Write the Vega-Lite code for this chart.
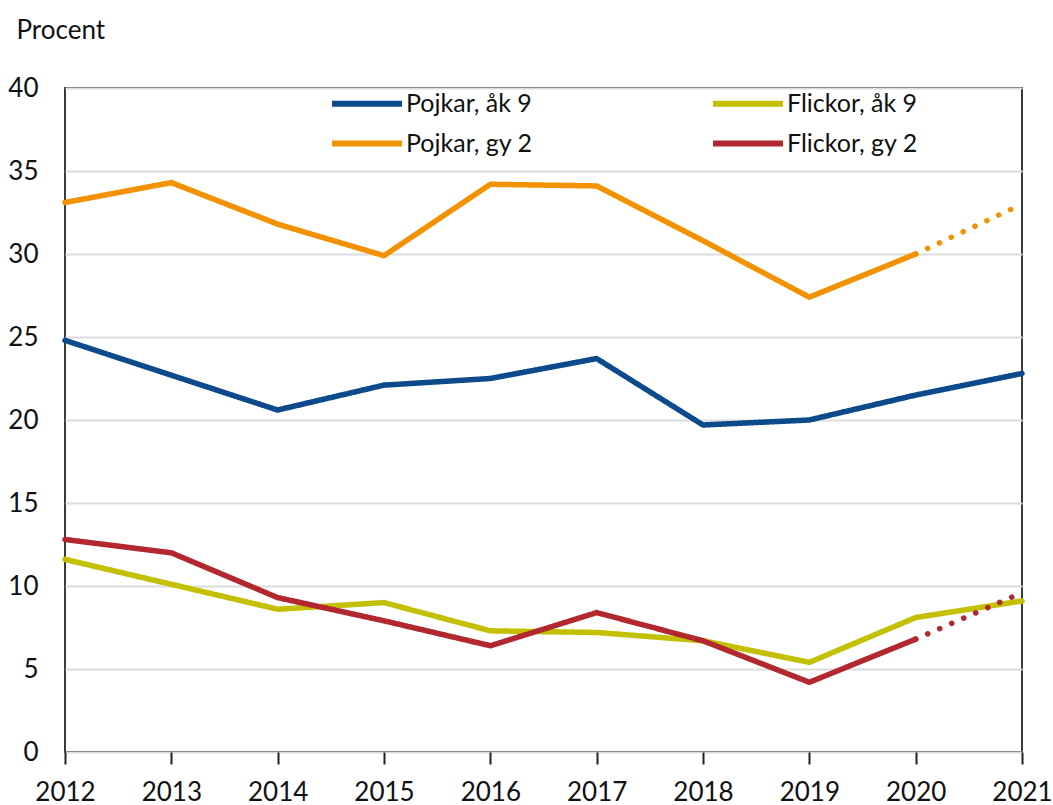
{
  "$schema": "https://vega.github.io/schema/vega-lite/v6.json",
  "width": 957,
  "height": 664,
  "autosize": {"type": "none"},
  "padding": {"left": 65, "top": 88, "right": 31, "bottom": 53},
  "background": "white",
  "config": {
    "font": "Lato",
    "view": {"stroke": "#3a3a3a", "strokeWidth": 2},
    "axis": {"labelFont": "Lato", "titleFont": "Lato", "labelColor": "#111", "titleColor": "#111"}
  },
  "data": {
    "values": [
      {"year": 2012, "series": "Pojkar, åk 9", "part": "solid", "value": 24.8},
      {"year": 2013, "series": "Pojkar, åk 9", "part": "solid", "value": 22.7},
      {"year": 2014, "series": "Pojkar, åk 9", "part": "solid", "value": 20.6},
      {"year": 2015, "series": "Pojkar, åk 9", "part": "solid", "value": 22.1},
      {"year": 2016, "series": "Pojkar, åk 9", "part": "solid", "value": 22.5},
      {"year": 2017, "series": "Pojkar, åk 9", "part": "solid", "value": 23.7},
      {"year": 2018, "series": "Pojkar, åk 9", "part": "solid", "value": 19.7},
      {"year": 2019, "series": "Pojkar, åk 9", "part": "solid", "value": 20.0},
      {"year": 2020, "series": "Pojkar, åk 9", "part": "solid", "value": 21.5},
      {"year": 2021, "series": "Pojkar, åk 9", "part": "solid", "value": 22.8},
      {"year": 2012, "series": "Flickor, åk 9", "part": "solid", "value": 11.6},
      {"year": 2013, "series": "Flickor, åk 9", "part": "solid", "value": 10.1},
      {"year": 2014, "series": "Flickor, åk 9", "part": "solid", "value": 8.6},
      {"year": 2015, "series": "Flickor, åk 9", "part": "solid", "value": 9.0},
      {"year": 2016, "series": "Flickor, åk 9", "part": "solid", "value": 7.3},
      {"year": 2017, "series": "Flickor, åk 9", "part": "solid", "value": 7.2},
      {"year": 2018, "series": "Flickor, åk 9", "part": "solid", "value": 6.7},
      {"year": 2019, "series": "Flickor, åk 9", "part": "solid", "value": 5.4},
      {"year": 2020, "series": "Flickor, åk 9", "part": "solid", "value": 8.1},
      {"year": 2021, "series": "Flickor, åk 9", "part": "solid", "value": 9.1},
      {"year": 2012, "series": "Pojkar, gy 2", "part": "solid", "value": 33.1},
      {"year": 2013, "series": "Pojkar, gy 2", "part": "solid", "value": 34.3},
      {"year": 2014, "series": "Pojkar, gy 2", "part": "solid", "value": 31.8},
      {"year": 2015, "series": "Pojkar, gy 2", "part": "solid", "value": 29.9},
      {"year": 2016, "series": "Pojkar, gy 2", "part": "solid", "value": 34.2},
      {"year": 2017, "series": "Pojkar, gy 2", "part": "solid", "value": 34.1},
      {"year": 2018, "series": "Pojkar, gy 2", "part": "solid", "value": 30.8},
      {"year": 2019, "series": "Pojkar, gy 2", "part": "solid", "value": 27.4},
      {"year": 2020, "series": "Pojkar, gy 2", "part": "solid", "value": 30.0},
      {"year": 2020, "series": "Pojkar, gy 2", "part": "dotted", "value": 30.0},
      {"year": 2021, "series": "Pojkar, gy 2", "part": "dotted", "value": 33.0},
      {"year": 2012, "series": "Flickor, gy 2", "part": "solid", "value": 12.8},
      {"year": 2013, "series": "Flickor, gy 2", "part": "solid", "value": 12.0},
      {"year": 2014, "series": "Flickor, gy 2", "part": "solid", "value": 9.3},
      {"year": 2015, "series": "Flickor, gy 2", "part": "solid", "value": 7.9},
      {"year": 2016, "series": "Flickor, gy 2", "part": "solid", "value": 6.4},
      {"year": 2017, "series": "Flickor, gy 2", "part": "solid", "value": 8.4},
      {"year": 2018, "series": "Flickor, gy 2", "part": "solid", "value": 6.7},
      {"year": 2019, "series": "Flickor, gy 2", "part": "solid", "value": 4.2},
      {"year": 2020, "series": "Flickor, gy 2", "part": "solid", "value": 6.8},
      {"year": 2020, "series": "Flickor, gy 2", "part": "dotted", "value": 6.8},
      {"year": 2021, "series": "Flickor, gy 2", "part": "dotted", "value": 9.6}
    ]
  },
  "mark": {"type": "line", "strokeWidth": 5.5, "strokeCap": "round", "strokeJoin": "round", "clip": false},
  "encoding": {
    "x": {
      "field": "year", "type": "quantitative",
      "scale": {"domain": [2012, 2021], "nice": false, "zero": false},
      "axis": {
        "values": [2012, 2013, 2014, 2015, 2016, 2017, 2018, 2019, 2020, 2021],
        "format": "d", "title": null, "grid": false, "domain": false,
        "ticks": true, "tickSize": 12, "tickColor": "#222", "tickWidth": 2,
        "labelFontSize": 26, "labelPadding": 15, "labelFlush": false
      }
    },
    "y": {
      "field": "value", "type": "quantitative",
      "scale": {"domain": [0, 40], "nice": false},
      "axis": {
        "values": [0, 5, 10, 15, 20, 25, 30, 35, 40],
        "title": "Procent", "titleAngle": 0, "titleAlign": "left", "titleBaseline": "middle",
        "titleX": -49, "titleY": -58, "titleFontSize": 26, "titleFontWeight": "normal",
        "domain": false, "ticks": false, "labelFontSize": 26, "labelPadding": 27,
        "grid": true, "gridColor": "#dcdcdc", "gridWidth": 2
      }
    },
    "color": {
      "field": "series", "type": "nominal",
      "scale": {
        "domain": ["Pojkar, åk 9", "Pojkar, gy 2", "Flickor, åk 9", "Flickor, gy 2"],
        "range": ["#0d4a8c", "#f39200", "#c2c000", "#b3282e"]
      },
      "legend": {
        "title": null, "orient": "none", "legendX": 264, "legendY": -5,
        "columns": 2, "columnPadding": 168, "rowPadding": 6,
        "symbolType": "M-1,0H3", "symbolSize": 1225, "symbolStrokeWidth": 6,
        "labelFontSize": 25, "labelColor": "#111", "labelOffset": 36, "labelLimit": 300
      }
    },
    "strokeDash": {
      "field": "part", "type": "nominal",
      "scale": {"domain": ["solid", "dotted"], "range": [[1, 0], [0.1, 13]]},
      "legend": null
    }
  }
}
